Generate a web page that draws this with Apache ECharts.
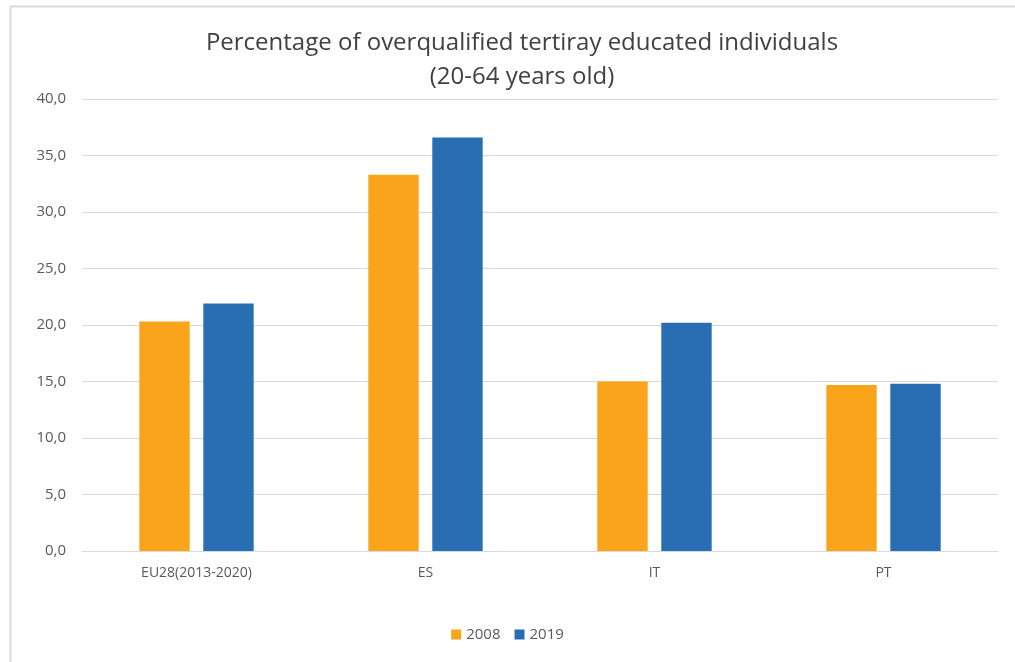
<!DOCTYPE html>
<html>
<head>
<meta charset="utf-8">
<title>Overqualified tertiary educated</title>
<script src="https://cdn.jsdelivr.net/npm/echarts@6/dist/echarts.min.js"></script>
<style>
  html, body { margin: 0; padding: 0; background: #fff; }
  #main { width: 1015px; height: 662px; }
</style>
</head>
<body>
<div id="main"></div>
<script>
// data
var categories = ['EU28(2013-2020)', 'ES', 'IT', 'PT'];
var values2008 = [20.3, 33.3, 15.0, 14.7];
var values2019 = [21.9, 36.6, 20.2, 14.8];
var seriesNames = ['2008', '2019'];

var chart = echarts.init(document.getElementById('main'));

var labelFont = '"Open Sans", "Noto Sans", sans-serif';

chart.setOption({
  animation: false,
  // outer chart border (left and top edges are visible in the picture)
  graphic: [
    { type: 'line', shape: { x1: 10.5, y1: 6.5, x2: 10.5, y2: 662 }, style: { stroke: '#d9d9d9', lineWidth: 2 } },
    { type: 'line', shape: { x1: 10, y1: 6.5, x2: 1015, y2: 6.5 }, style: { stroke: '#d9d9d9', lineWidth: 2 } }
  ],
  title: {
    text: 'Percentage of overqualified tertiray educated individuals\n(20-64 years old)',
    left: 517,
    textAlign: 'center',
    top: 21,
    textStyle: {
      fontFamily: labelFont,
      fontSize: 24,
      fontWeight: 'normal',
      color: '#404040',
      lineHeight: 34
    }
  },
  legend: {
    data: seriesNames,
    bottom: 15,
    left: 'center',
    itemWidth: 10,
    itemHeight: 10,
    itemGap: 14,
    icon: 'rect',
    textStyle: { fontFamily: labelFont, fontSize: 15, color: '#595959' }
  },
  grid: { left: 82, right: 17, top: 99, bottom: 111 },
  xAxis: {
    type: 'category',
    data: categories,
    axisTick: { show: false },
    axisLine: { lineStyle: { color: '#d9d9d9', width: 1 } },
    axisLabel: { fontFamily: labelFont, fontSize: 14, color: '#595959', margin: 15 }
  },
  yAxis: {
    type: 'value',
    min: 0,
    max: 40,
    interval: 5,
    axisLine: { show: false },
    axisTick: { show: false },
    splitLine: { lineStyle: { color: '#d9d9d9', width: 1 } },
    axisLabel: {
      fontFamily: labelFont, fontSize: 15, color: '#595959', margin: 16,
      formatter: function (v) { return v.toFixed(1).replace('.', ','); }
    }
  },
  series: [
    {
      name: seriesNames[0],
      type: 'bar',
      data: values2008,
      barWidth: '22%',
      barGap: '27%',
      itemStyle: { color: '#F9A41B' }
    },
    {
      name: seriesNames[1],
      type: 'bar',
      data: values2019,
      barWidth: '22%',
      barGap: '27%',
      itemStyle: { color: '#296DB3' }
    }
  ]
});
</script>
</body>
</html>
